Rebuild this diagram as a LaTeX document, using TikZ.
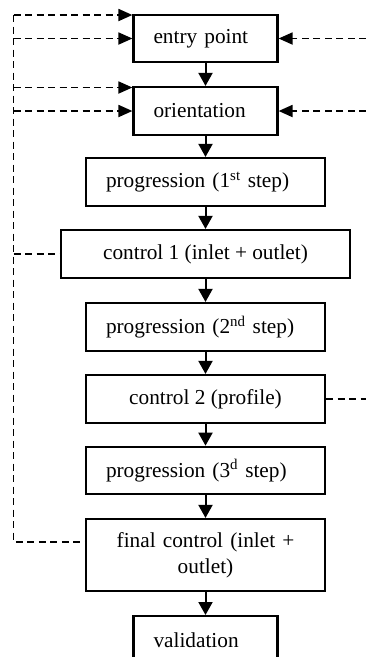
\documentclass[tikz,border=0pt]{standalone}
\usepackage{fontspec}
\setmainfont{Liberation Serif}
\usetikzlibrary{arrows.meta}
\newcommand{\fsz}{\fontsize{21.3pt}{26pt}\selectfont}
\tikzset{
  box/.style={draw, line width=2.2pt, minimum height=48pt, inner ysep=0pt, font=\fsz},
  lbox/.style={box, align=left, inner xsep=20pt, text width=#1},
  cbox/.style={box, align=center, inner xsep=0pt, minimum width=#1},
  flow/.style={line width=2pt, -{Triangle[length=13pt,width=14pt]}},
  fb/.style={line width=1.8pt, dash pattern=on 7pt off 4.5pt},
  fbarrow/.style={fb, -{Triangle[length=14pt,width=12pt]}}
}
\begin{document}
\begin{tikzpicture}[x=1pt,y=-1pt]
\useasboundingbox (0,0) rectangle (366,657);
\clip (0,0) rectangle (366,657);
% boxes
\node[lbox=104pt, minimum height=47pt] (entry)  at (205.5,38.5) {entry point};
\node[lbox=104pt] (orient) at (205.5,111) {orientation};
\node[lbox=199pt] (prog1)  at (205.5,182) {progression (1\textsuperscript{st} step)};
\node[cbox=289pt] (ctrl1)  at (205.5,254) {control 1 (inlet + outlet)};
\node[lbox=199pt] (prog2)  at (205.5,327) {progression (2\textsuperscript{nd} step)};
\node[cbox=239pt] (ctrl2)  at (205.5,399) {control 2 (profile)};
\node[lbox=199pt, minimum height=47.5pt] (prog3)  at (205.5,470.5) {progression (3\textsuperscript{d} step)};
\node[box, align=center, inner xsep=10pt, text width=219pt, minimum height=72pt] (final) at (205.5,555) {final control (inlet +\\outlet)};
\node[lbox=104pt, anchor=north] (valid) at (205.5,615) {validation};
% main flow
\draw[flow] (entry) -- (orient);
\draw[flow] (orient) -- (prog1);
\draw[flow] (prog1) -- (ctrl1);
\draw[flow] (ctrl1) -- (prog2);
\draw[flow] (prog2) -- (ctrl2);
\draw[flow] (ctrl2) -- (prog3);
\draw[flow] (prog3) -- (final);
\draw[flow] (final) -- (valid);
% left feedback
\coordinate (Ltop) at (13.5,15);
\coordinate (Lbot) at (13.5,541.7);
\coordinate (L1) at (13.5,38.5);
\coordinate (L2) at (13.5,87.5);
\coordinate (L3) at (13.5,111);
\coordinate (L4) at (13.5,254);
\draw[fb] (Ltop) -- (Lbot) -- (Lbot -| final.west);
\draw[fbarrow] (Ltop) -- (Ltop -| entry.west);
\draw[fbarrow] (L1) -- (entry.west);
\draw[fbarrow] (L2) -- (L2 -| orient.west);
\draw[fbarrow] (L3) -- (orient.west);
\draw[fb] (L4) -- (ctrl1.west);
% right feedback
\coordinate (R1) at (366,38.5);
\coordinate (R2) at (366,111);
\coordinate (R3) at (366,399);
\draw[fbarrow] (R1) -- (entry.east);
\draw[fbarrow] (R2) -- (orient.east);
\draw[fb] (ctrl2.east) -- (R3);
\end{tikzpicture}
\end{document}
